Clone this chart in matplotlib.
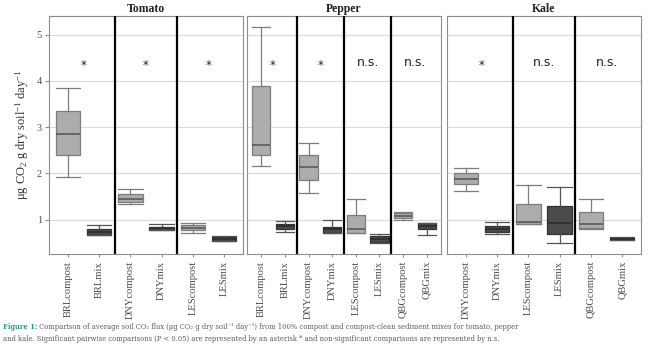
import matplotlib
matplotlib.use("Agg")
import matplotlib.pyplot as plt

plt.rcParams['font.family'] = ['Liberation Serif', 'DejaVu Serif']
plt.rcParams['mathtext.fontset'] = 'custom'
plt.rcParams['mathtext.rm'] = 'Liberation Serif'
plt.rcParams['mathtext.it'] = 'Liberation Serif:italic'

crops = ['Tomato', 'Pepper', 'Kale']

# Tomato
tomato_labels = ['BRLcompost', 'BRLmix', 'DNYcompost', 'DNYmix', 'LEScompost', 'LESmix']
tomato_lo = [1.92, 0.67, 1.33, 0.77, 0.72, 0.53]
tomato_q1 = [2.39, 0.67, 1.38, 0.77, 0.77, 0.54]
tomato_med = [2.85, 0.73, 1.45, 0.82, 0.82, 0.58]
tomato_q3 = [3.34, 0.79, 1.55, 0.85, 0.88, 0.63]
tomato_hi = [3.85, 0.88, 1.67, 0.90, 0.93, 0.64]
tomato_sig = ['*', '*', '*']

# Pepper
pepper_labels = ['BRLcompost', 'BRLmix', 'DNYcompost', 'DNYmix',
                 'LEScompost', 'LESmix', 'QBGcompost', 'QBGmix']
pepper_lo = [2.16, 0.74, 1.58, 0.71, 0.72, 0.50, 0.99, 0.68]
pepper_q1 = [2.39, 0.79, 1.85, 0.71, 0.72, 0.52, 1.03, 0.79]
pepper_med = [2.62, 0.86, 2.13, 0.80, 0.79, 0.58, 1.09, 0.86]
pepper_q3 = [3.89, 0.90, 2.39, 0.85, 1.10, 0.64, 1.15, 0.92]
pepper_hi = [5.16, 0.97, 2.66, 0.99, 1.44, 0.70, 1.17, 0.92]
pepper_sig = ['*', '*', 'n.s.', 'n.s.']

# Kale
kale_labels = ['DNYcompost', 'DNYmix', 'LEScompost', 'LESmix', 'QBGcompost', 'QBGmix']
kale_lo = [1.62, 0.69, 0.90, 0.49, 0.80, 0.56]
kale_q1 = [1.77, 0.74, 0.90, 0.70, 0.82, 0.57]
kale_med = [1.89, 0.80, 0.95, 0.93, 0.90, 0.59]
kale_q3 = [2.02, 0.87, 1.35, 1.30, 1.17, 0.61]
kale_hi = [2.11, 0.95, 1.76, 1.70, 1.44, 0.62]
kale_sig = ['*', 'n.s.', 'n.s.']

panels = [
    (tomato_labels, tomato_lo, tomato_q1, tomato_med, tomato_q3, tomato_hi, tomato_sig),
    (pepper_labels, pepper_lo, pepper_q1, pepper_med, pepper_q3, pepper_hi, pepper_sig),
    (kale_labels, kale_lo, kale_q1, kale_med, kale_q3, kale_hi, kale_sig),
]

fig = plt.figure(figsize=(6.5, 3.51), dpi=100)
lefts = [49 / 650, 247 / 650, 447 / 650]
pw = 194 / 650
pb = 1 - 254 / 351
ph = (254 - 16) / 351

compost_style = dict(
    boxprops=dict(facecolor='#acacac', edgecolor='#7d7d7d', linewidth=0.9),
    whiskerprops=dict(color='#7d7d7d', linewidth=0.9),
    capprops=dict(color='#7d7d7d', linewidth=0.9),
    medianprops=dict(color='#5a5a5a', linewidth=1.2),
)
mix_style = dict(
    boxprops=dict(facecolor='#4b4b4b', edgecolor='#333333', linewidth=0.9),
    whiskerprops=dict(color='#555555', linewidth=0.9),
    capprops=dict(color='#555555', linewidth=0.9),
    medianprops=dict(color='#2e2e2e', linewidth=1.2),
)

for k, (labels, lo, q1, med, q3, hi, sig) in enumerate(panels):
    ax = fig.add_axes([lefts[k], pb, pw, ph])
    n = len(labels)
    stats = []
    for i in range(n):
        stats.append(dict(med=med[i], q1=q1[i], q3=q3[i], whislo=lo[i],
                          whishi=hi[i], fliers=[], label=labels[i]))
    pos = list(range(1, n + 1))
    w = 0.78
    ax.bxp(stats[0::2], positions=pos[0::2], widths=w, capwidths=w,
           patch_artist=True, showfliers=False, **compost_style)
    ax.bxp(stats[1::2], positions=pos[1::2], widths=w, capwidths=w,
           patch_artist=True, showfliers=False, **mix_style)

    for j in range(1, n // 2):
        ax.axvline(2 * j + 0.5, color='black', lw=1.6, zorder=3)

    for j, s in enumerate(sig):
        if s == '*':
            ax.annotate(s, (2 * j + 1.5, 4.4), xytext=(0, -2.5), textcoords='offset points',
                        ha='center', va='center', fontsize=8.5,
                        family='DejaVu Sans', color='#222222')
        else:
            ax.text(2 * j + 1.5, 4.4, s, ha='center', va='center', fontsize=9,
                    family='DejaVu Sans', color='#222222')

    ax.set_xlim(0.4, n + 0.6)
    ax.set_ylim(0.26, 5.4)
    ax.set_yticks([1, 2, 3, 4, 5])
    ax.set_xticks(pos)
    ax.set_xticklabels(labels, rotation=90, fontsize=7.6, color='#4d4d4d')
    ax.yaxis.grid(True, color='#dadada', lw=0.8)
    ax.set_axisbelow(True)
    for sp in ax.spines.values():
        sp.set_color('#8c8c8c')
        sp.set_linewidth(0.8)
    ax.tick_params(axis='x', length=2, color='#8c8c8c', pad=3)
    ax.tick_params(axis='y', length=3, color='#8c8c8c', labelsize=7.5, labelcolor='#4d4d4d', pad=2)
    if k > 0:
        ax.tick_params(axis='y', length=0, labelleft=False)
    else:
        ax.set_ylabel('μg CO$_2$ g dry soil$^{-1}$ day$^{-1}$', fontsize=9,
                      color='#333333', labelpad=4)
    ax.set_title(crops[k], fontsize=8.5, fontweight='bold', color='#222222', pad=3)

# caption
cap = fig.add_axes([0, 0, 1, 1])
cap.axis('off')
cap.set_zorder(-1)
t = cap.text(0.004, 0.068, 'Figure 1:', fontsize=4.9, family='DejaVu Serif', fontweight='bold',
             color='#1f9e8a', va='center', transform=cap.transAxes)
cap.annotate(' Comparison of average soil CO₂ flux (μg CO₂ g dry soil⁻¹ day⁻¹) from 100% compost '
             'and compost-clean sediment mixes for tomato, pepper',
             xy=(1, 0.5), xycoords=t, va='center', ha='left',
             fontsize=4.9, family='DejaVu Serif', color='#5a5a5a')
cap.text(0.004, 0.034, 'and kale. Significant pairwise comparisons (P < 0.05) are represented by an '
         'asterisk * and non-significant comparisons are represented by n.s.',
         fontsize=4.9, family='DejaVu Serif', color='#5a5a5a', va='center',
         transform=cap.transAxes)

fig.savefig('out.png', dpi=100)
